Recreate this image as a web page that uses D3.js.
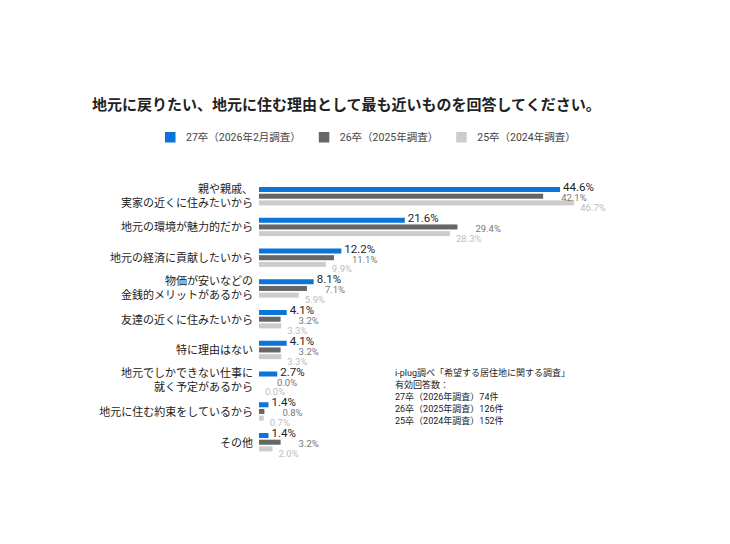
<!DOCTYPE html>
<html><head><meta charset="utf-8">
<script src="https://cdn.jsdelivr.net/npm/d3@7"></script>
<style>
html,body{margin:0;padding:0;background:#fff;}
svg{display:block;font-family:Roboto,"Noto Sans CJK JP",sans-serif;}
</style></head>
<body><svg id="chart" width="730" height="544"></svg>
<script>
const title = "地元に戻りたい、地元に住む理由として最も近いものを回答してください。";
const categories = [
  "親や親戚、\n実家の近くに住みたいから",
  "地元の環境が魅力的だから",
  "地元の経済に貢献したいから",
  "物価が安いなどの\n金銭的メリットがあるから",
  "友達の近くに住みたいから",
  "特に理由はない",
  "地元でしかできない仕事に\n就く予定があるから",
  "地元に住む約束をしているから",
  "その他"
];
const seriesNames = ["27卒（2026年2月調査）", "26卒（2025年調査）", "25卒（2024年調査）"];
const s27 = [44.6, 21.6, 12.2, 8.1, 4.1, 4.1, 2.7, 1.4, 1.4];
const s26 = [42.1, 29.4, 11.1, 7.1, 3.2, 3.2, 0.0, 0.8, 3.2];
const s25 = [46.7, 28.3, 9.9, 5.9, 3.3, 3.3, 0.0, 0.7, 2.0];
const sourceLines = [
  "i-plug調べ「希望する居住地に関する調査」",
  "有効回答数：",
  "27卒（2026年調査）74件",
  "26卒（2025年調査）126件",
  "25卒（2024年調査）152件"
];

const series = [s27, s26, s25];
const colors = ["#0b74d8", "#666666", "#cccccc"];
const labelColors = ["#222222", "#777777", "#bdbdbd"];

const svg = d3.select("#chart");

svg.append("text").attr("x", 92).attr("y", 104.5)
  .attr("dominant-baseline", "central")
  .attr("font-size", 15).attr("font-weight", "bold").attr("fill", "#222")
  .text(title);

// legend
const lg = svg.append("g");
let lx = 165;
seriesNames.forEach((n, i) => {
  lg.append("rect").attr("x", lx).attr("y", 132).attr("width", 10.5).attr("height", 10.5).attr("fill", colors[i]);
  const t = lg.append("text").attr("x", lx + 21).attr("y", 137.5)
    .attr("dominant-baseline", "central").attr("font-size", 10.5).attr("fill", "#444").text(n);
  lx = lx + 21 + t.node().getComputedTextLength() + 18;
});

const x = d3.scaleLinear().domain([0, 50]).range([259, 596.5]);
const y = d3.scaleBand().domain(d3.range(categories.length)).range([187, 187 + 9 * 30.75]);
const yi = d3.scaleBand().domain([0, 1, 2]).range([0, 18.4]).paddingInner(0.25);

const groups = svg.append("g").selectAll("g").data(categories).join("g")
  .attr("transform", (d, i) => `translate(0,${y(i)})`);

// category labels
groups.each(function(d, i) {
  const lines = d.split("\n");
  const mid = 9 + (lines.length === 1 ? 1 : 0);
  const g = d3.select(this);
  lines.forEach((ln, k) => {
    g.append("text").attr("x", 253).attr("y", mid + (k - (lines.length - 1) / 2) * 14)
      .attr("text-anchor", "end").attr("dominant-baseline", "central")
      .attr("font-size", 11).attr("fill", "#222").text(ln);
  });
});

// bars
groups.each(function(d, i) {
  const g = d3.select(this);
  series.forEach((s, k) => {
    const v = s[i];
    if (v > 0) {
      g.append("rect").attr("x", x(0)).attr("y", yi(k))
        .attr("width", x(v) - x(0)).attr("height", yi.bandwidth())
        .attr("fill", colors[k]);
    }
  });
});

// value labels
groups.each(function(d, i) {
  const g = d3.select(this);
  const offs = [3, 18, 6];
  const dys = [-0.8, 2.5, 5.5];
  const sizes = [11.5, 9.5, 9.5];
  series.forEach((s, k) => {
    const v = s[i];
    g.append("text").attr("x", x(v) + offs[k])
      .attr("y", yi(k) + yi.bandwidth() + dys[k])
      .attr("font-size", sizes[k]).attr("fill", labelColors[k])
      .text(v.toFixed(1) + "%");
  });
});

// source note
const src = svg.append("g");
sourceLines.forEach((t, i) => {
  src.append("text").attr("x", 395).attr("y", 373 + i * 12)
    .attr("dominant-baseline", "central")
    .attr("font-size", 9).attr("fill", "#222").text(t);
});
</script></body></html>
